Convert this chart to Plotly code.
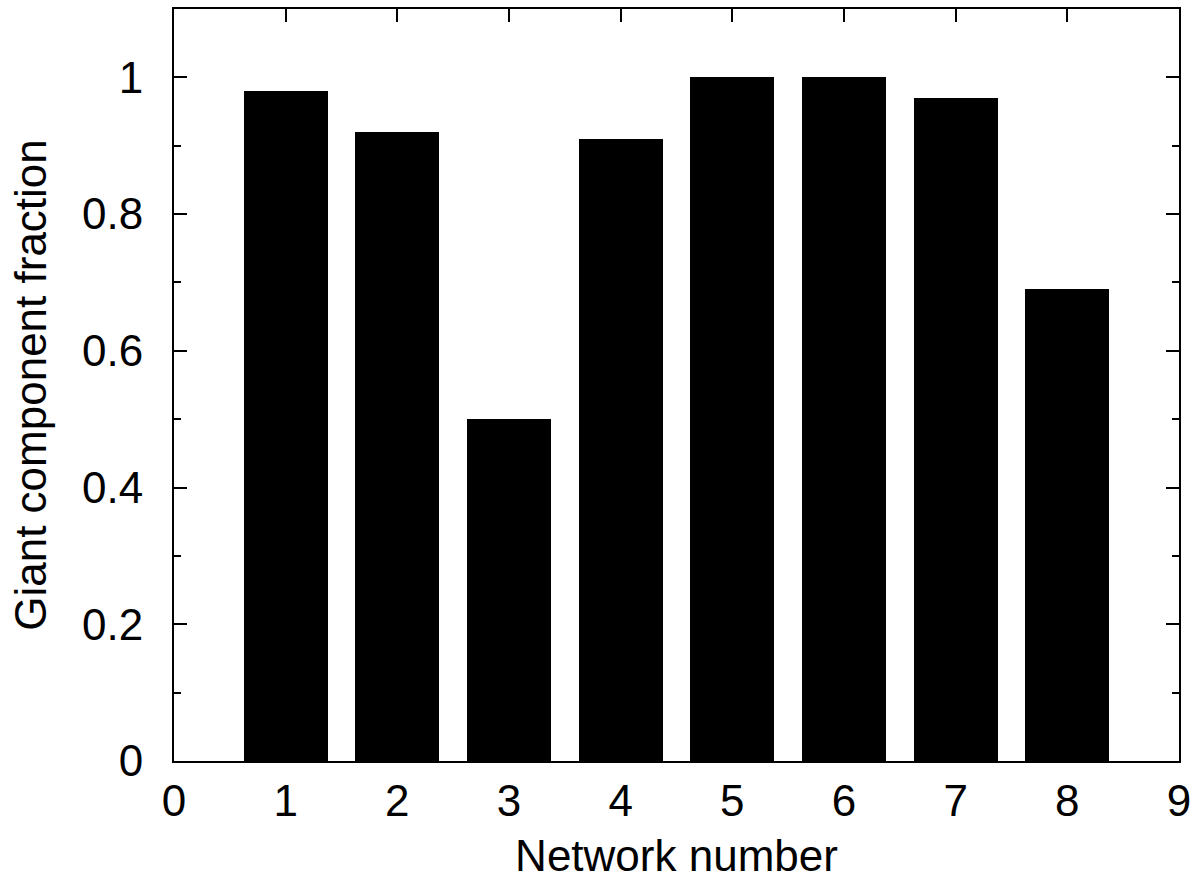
import plotly.graph_objects as go

networks = [1, 2, 3, 4, 5, 6, 7, 8]
giant_fraction = [0.98, 0.92, 0.50, 0.91, 1.00, 1.00, 0.97, 0.69]
x_ticks = [0, 1, 2, 3, 4, 5, 6, 7, 8, 9]
y_ticks = [0, 0.2, 0.4, 0.6, 0.8, 1.0]
y_tick_labels = ["0", "0.2", "0.4", "0.6", "0.8", "1"]

FONT = "Liberation Sans, Arial, Helvetica, sans-serif"
FS = 44

fig = go.Figure()
fig.add_trace(go.Bar(
    x=networks, y=giant_fraction, width=0.75,
    marker=dict(color="black", line=dict(width=0)),
    showlegend=False,
))

axis_common = dict(
    showline=True, linecolor="black", linewidth=2,
    mirror="allticks", ticks="inside", ticklen=13, tickwidth=2, tickcolor="black",
    showgrid=False, zeroline=False, automargin=False,
    tickfont=dict(family=FONT, size=FS, color="black"),
)

fig.update_xaxes(
    range=[0, 9], tickmode="array", tickvals=x_ticks,
    ticktext=[str(v) for v in x_ticks],
    ticklabelstandoff=0,
    title=dict(text="Network number", font=dict(family=FONT, size=FS, color="black"), standoff=16),
    **axis_common,
)
fig.update_yaxes(
    range=[0, 1.1], tickmode="array", tickvals=y_ticks, ticktext=y_tick_labels,
    ticklabelstandoff=20,
    minor=dict(dtick=0.1, ticks="inside", ticklen=7, tickwidth=2, tickcolor="black", showgrid=False),
    title=dict(text="Giant component fraction", font=dict(family=FONT, size=FS, color="black"), standoff=22),
    **axis_common,
)

fig.update_layout(
    width=1193, height=882,
    margin=dict(l=174, r=14, t=9, b=121),
    plot_bgcolor="white", paper_bgcolor="white",
    bargap=0,
)

fig.write_html("out.html", config={"displayModeBar": False},
               post_script="document.body.style.margin='0px';")
